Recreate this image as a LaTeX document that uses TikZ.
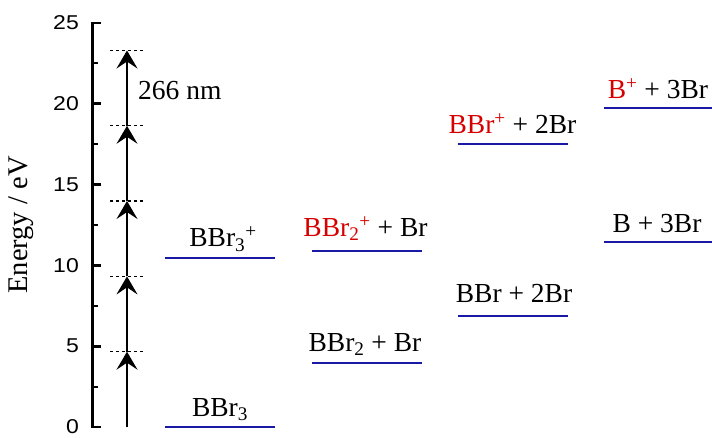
\documentclass[tikz,border=0pt]{standalone}
\usepackage{fontspec}
\setmainfont{Liberation Serif}
\newfontfamily\tickfont{Liberation Sans}[FakeStretch=1.15]
\usetikzlibrary{arrows.meta}
\definecolor{lvlblue}{RGB}{25,25,165}
\definecolor{specred}{RGB}{215,0,0}
\begin{document}
\begin{tikzpicture}[x=1pt,y=1pt,
  level/.style={draw=lvlblue, line width=2pt},
  lbl/.style={anchor=base, font=\fontsize{27.5}{32}\selectfont, inner sep=0pt},
  ticklbl/.style={anchor=east, font=\tickfont\fontsize{20}{24}\selectfont, inner sep=0pt},
  photon/.style={line width=1.4pt, -{Stealth[length=18pt,width=21pt,inset=7pt]}},
  dashlvl/.style={dash pattern=on 3pt off 3pt, line width=1.3pt},
  axisline/.style={line width=2.8pt},
  majortick/.style={line width=2.6pt},
  minortick/.style={line width=2.2pt},
]
\useasboundingbox (0,0) rectangle (712,437);

% axis
\coordinate (axbot) at (92.5,10);
\coordinate (axtop) at (92.5,414);
\draw[axisline] (axbot) -- (axtop);
\foreach \k in {0,...,5}{
  \pgfmathsetmacro{\yy}{10+80.8*\k}
  \draw[majortick] (91.2,\yy) -- (100.5,\yy);
  \pgfmathtruncatemacro{\lab}{5*\k}
  \node[ticklbl] (t\k) at (79,\yy) {\lab};
}
\foreach \k in {0,...,4}{
  \pgfmathsetmacro{\yy}{50.4+80.8*\k}
  \draw[minortick] (92.5,\yy) -- (97.5,\yy);
}
\node[font=\fontsize{28.5}{32}\selectfont, rotate=90, inner sep=0pt] (ylab) at (21,212) {Energy / eV};

% photon ladder
\coordinate (p0) at (127,10);
\coordinate (p1) at (127,85.3);
\coordinate (p2) at (127,160.6);
\coordinate (p3) at (127,236);
\coordinate (p4) at (127,311.2);
\coordinate (p5) at (127,386.5);
\foreach \i in {1,...,5}{
  \draw[dashlvl] ([xshift=-17pt]p\i) -- ([xshift=18pt]p\i);
}
\draw[photon] (p0) -- (p1);
\draw[photon] (p1) -- (p2);
\draw[photon] (p2) -- (p3);
\draw[photon] (p3) -- (p4);
\draw[photon] (p4) -- (p5);
\node[lbl, anchor=base west] (nm) at (138,337) {266 nm};

% levels
\draw[level] (165,10) -- (275,10);
\node[lbl] (bbr3) at (220,20.6) {BBr\textsubscript{3}};

\draw[level] (165,179) -- (275,179);
\node[lbl] (bbr3p) at (223,190) {BBr\textsubscript{3}\textsuperscript{+}};

\draw[level] (312,74) -- (422,74);
\node[lbl] (bbr2) at (365,85.6) {BBr\textsubscript{2} + Br};

\draw[level] (312,186) -- (422,186);
\node[lbl] (bbr2p) at (365.5,200.5) {\textcolor{specred}{BBr\textsubscript{2}\textsuperscript{+}} + Br};

\draw[level] (458,121) -- (568,121);
\node[lbl] (bbr) at (514,135) {BBr + 2Br};

\draw[level] (458,293) -- (568,293);
\node[lbl] (bbrp) at (512.5,303) {\textcolor{specred}{BBr\textsuperscript{+}} + 2Br};

\draw[level] (604,195) -- (712,195);
\node[lbl] (b) at (657,204.3) {B + 3Br};

\draw[level] (604,329) -- (712,329);
\node[lbl] (bp) at (658,338.7) {\textcolor{specred}{B\textsuperscript{+}} + 3Br};
\end{tikzpicture}
\end{document}
